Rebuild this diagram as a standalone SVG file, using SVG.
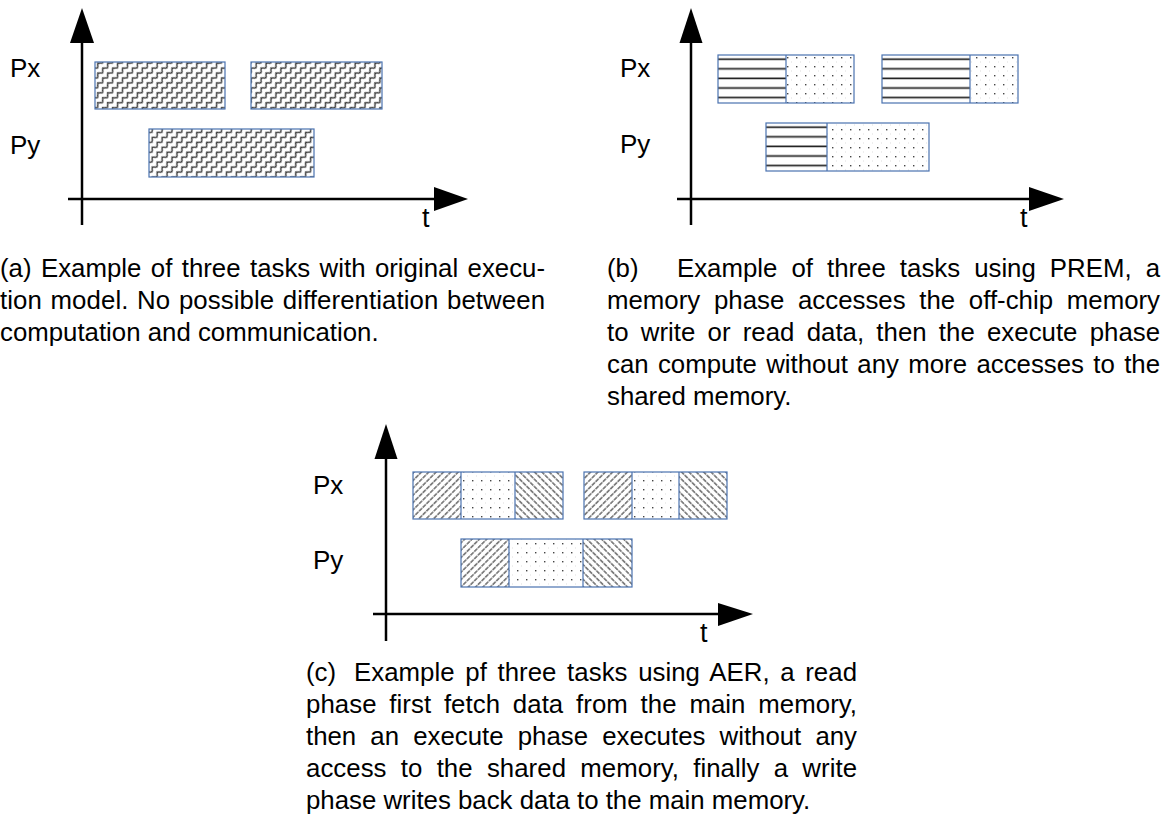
<svg xmlns="http://www.w3.org/2000/svg" width="1163" height="826" viewBox="0 0 1163 826">
<style>
.lbl{font-family:"Liberation Sans",Arial,sans-serif;font-size:26px;fill:#000}
.t{font-family:"Liberation Sans",Arial,sans-serif;font-size:27px;fill:#000}
.cap{font-family:"Liberation Sans",Arial,sans-serif;font-size:25.8px;fill:#000}
.ax{stroke:#000;stroke-width:2.5;fill:none}
.ah{fill:#000;stroke:none}
.box{fill:none;stroke:#4a72b0;stroke-width:1.2}
.div{stroke:#4a72b0;stroke-width:1.2}
</style>
<defs>
<pattern id="weave" width="7" height="7" patternUnits="userSpaceOnUse" patternTransform="rotate(-45)">
<rect width="7" height="7" fill="#fff"/>
<polyline points="0,5.2 3.5,1.7 7,5.2" fill="none" stroke="#3c3c3c" stroke-width="1.5"/>
</pattern>
<pattern id="stripes" x="0" y="0" width="1" height="0.2" patternUnits="objectBoundingBox">
<rect width="400" height="10" fill="#fff"/>
<line x1="0" y1="4.3" x2="400" y2="4.3" stroke="#222" stroke-width="1.7"/>
</pattern>
<pattern id="dots" width="9" height="9" patternUnits="userSpaceOnUse">
<rect width="9" height="9" fill="#fff"/>
<rect x="4" y="3" width="1.4" height="1.4" fill="#444"/>
<rect x="8.5" y="7.5" width="1" height="1" fill="#bbb"/>
</pattern>
<pattern id="fwd" width="5.2" height="5.2" patternUnits="userSpaceOnUse" patternTransform="rotate(45)">
<rect width="5.2" height="5.2" fill="#fff"/>
<line x1="2.6" y1="0" x2="2.6" y2="5.2" stroke="#333" stroke-width="1.1" stroke-dasharray="2.8 0.8"/>
</pattern>
<pattern id="back" width="5.2" height="5.2" patternUnits="userSpaceOnUse" patternTransform="rotate(-45)">
<rect width="5.2" height="5.2" fill="#fff"/>
<line x1="2.6" y1="0" x2="2.6" y2="5.2" stroke="#333" stroke-width="1.1" stroke-dasharray="2.8 0.8"/>
</pattern>
</defs>
<rect width="1163" height="826" fill="#fff"/>

<g id="connectors">
<g id="axes-a">
<line class="ax" x1="82" y1="225" x2="82" y2="40"/>
<polygon class="ah" points="82,8 70,43 94,43"/>
<line class="ax" x1="68" y1="199" x2="436" y2="199"/>
<polygon class="ah" points="468,199 434,187 434,211"/>
</g>
<g id="axes-b">
<line class="ax" x1="691" y1="225" x2="691" y2="40"/>
<polygon class="ah" points="691,8 679.5,43 702.5,43"/>
<line class="ax" x1="677" y1="199" x2="1031" y2="199"/>
<polygon class="ah" points="1064,199 1029,187 1029,211"/>
</g>
<g id="axes-c">
<line class="ax" x1="386" y1="641" x2="386" y2="455"/>
<polygon class="ah" points="386,424 374.5,459 397.5,459"/>
<line class="ax" x1="373" y1="614" x2="720" y2="614"/>
<polygon class="ah" points="753,614 718,603 718,626"/>
</g>
</g>

<g id="panel-a">
<text class="lbl" x="10" y="77">Px</text>
<text class="lbl" x="10" y="154">Py</text>
<text class="t" x="422" y="227">t</text>
<g id="a-px-task1"><rect x="95" y="62" width="130" height="47" fill="url(#weave)"/><rect class="box" x="95" y="62" width="130" height="47"/></g>
<g id="a-px-task2"><rect x="251" y="62" width="131" height="47" fill="url(#weave)"/><rect class="box" x="251" y="62" width="131" height="47"/></g>
<g id="a-py-task"><rect x="149" y="129" width="165" height="48" fill="url(#weave)"/><rect class="box" x="149" y="129" width="165" height="48"/></g>
</g>

<g id="panel-b">
<text class="lbl" x="620" y="77">Px</text>
<text class="lbl" x="620" y="153">Py</text>
<g id="b-px-task1">
<rect x="718" y="55" width="68" height="48" fill="url(#stripes)"/>
<rect x="786" y="55" width="68" height="48" fill="url(#dots)"/>
<rect class="box" x="718" y="55" width="136" height="48"/>
<line class="div" x1="786" y1="55" x2="786" y2="103"/>
</g>
<g id="b-px-task2">
<rect x="882" y="55" width="88" height="48" fill="url(#stripes)"/>
<rect x="970" y="55" width="48" height="48" fill="url(#dots)"/>
<rect class="box" x="882" y="55" width="136" height="48"/>
<line class="div" x1="970" y1="55" x2="970" y2="103"/>
</g>
<g id="b-py-task">
<rect x="766" y="123" width="61" height="48" fill="url(#stripes)"/>
<rect x="827" y="123" width="102" height="48" fill="url(#dots)"/>
<rect class="box" x="766" y="123" width="163" height="48"/>
<line class="div" x1="827" y1="123" x2="827" y2="171"/>
</g>
<text class="t" x="1020" y="227">t</text>
</g>

<g id="panel-c">
<text class="lbl" x="313" y="494">Px</text>
<text class="lbl" x="313" y="569">Py</text>
<text class="t" x="700" y="642">t</text>
<g id="c-px-task1">
<rect x="413" y="472" width="48" height="47" fill="url(#fwd)"/>
<rect x="461" y="472" width="54" height="47" fill="url(#dots)"/>
<rect x="515" y="472" width="48" height="47" fill="url(#back)"/>
<rect class="box" x="413" y="472" width="150" height="47"/>
<line class="div" x1="461" y1="472" x2="461" y2="519"/>
<line class="div" x1="515" y1="472" x2="515" y2="519"/>
</g>
<g id="c-px-task2">
<rect x="584" y="472" width="48" height="47" fill="url(#fwd)"/>
<rect x="632" y="472" width="47" height="47" fill="url(#dots)"/>
<rect x="679" y="472" width="48" height="47" fill="url(#back)"/>
<rect class="box" x="584" y="472" width="143" height="47"/>
<line class="div" x1="632" y1="472" x2="632" y2="519"/>
<line class="div" x1="679" y1="472" x2="679" y2="519"/>
</g>
<g id="c-py-task">
<rect x="461" y="539" width="48" height="48" fill="url(#fwd)"/>
<rect x="509" y="539" width="74" height="48" fill="url(#dots)"/>
<rect x="583" y="539" width="49" height="48" fill="url(#back)"/>
<rect class="box" x="461" y="539" width="171" height="48"/>
<line class="div" x1="509" y1="539" x2="509" y2="587"/>
<line class="div" x1="583" y1="539" x2="583" y2="587"/>
</g>
</g>

<g id="captions">
<text class="cap" x="0" y="277" word-spacing="2.27" textLength="545" lengthAdjust="spacing">(a) Example of three tasks with original execu-</text>
<text class="cap" x="0" y="309" word-spacing="1.44" textLength="545" lengthAdjust="spacing">tion model. No possible differentiation between</text>
<text class="cap" x="0" y="341">computation and communication.</text>

<text class="cap" x="607" y="277">(b)</text>
<text class="cap" x="677" y="277" word-spacing="6.9" textLength="483" lengthAdjust="spacing">Example of three tasks using PREM, a</text>
<text class="cap" x="607" y="309" word-spacing="6.5" textLength="553" lengthAdjust="spacing">memory phase accesses the off-chip memory</text>
<text class="cap" x="607" y="341" word-spacing="5.1" textLength="553" lengthAdjust="spacing">to write or read data, then the execute phase</text>
<text class="cap" x="607" y="373" word-spacing="2.19" textLength="553" lengthAdjust="spacing">can compute without any more accesses to the</text>
<text class="cap" x="607" y="405">shared memory.</text>

<text class="cap" x="306" y="681">(c)</text>
<text class="cap" x="354" y="681" word-spacing="3.43" textLength="503" lengthAdjust="spacing">Example pf three tasks using AER, a read</text>
<text class="cap" x="306" y="713" word-spacing="5.59" textLength="551" lengthAdjust="spacing">phase first fetch data from the main memory,</text>
<text class="cap" x="306" y="745" word-spacing="6.98" textLength="551" lengthAdjust="spacing">then an execute phase executes without any</text>
<text class="cap" x="306" y="777" word-spacing="7.03" textLength="551" lengthAdjust="spacing">access to the shared memory, finally a write</text>
<text class="cap" x="306" y="809">phase writes back data to the main memory.</text>
</g>
</svg>
